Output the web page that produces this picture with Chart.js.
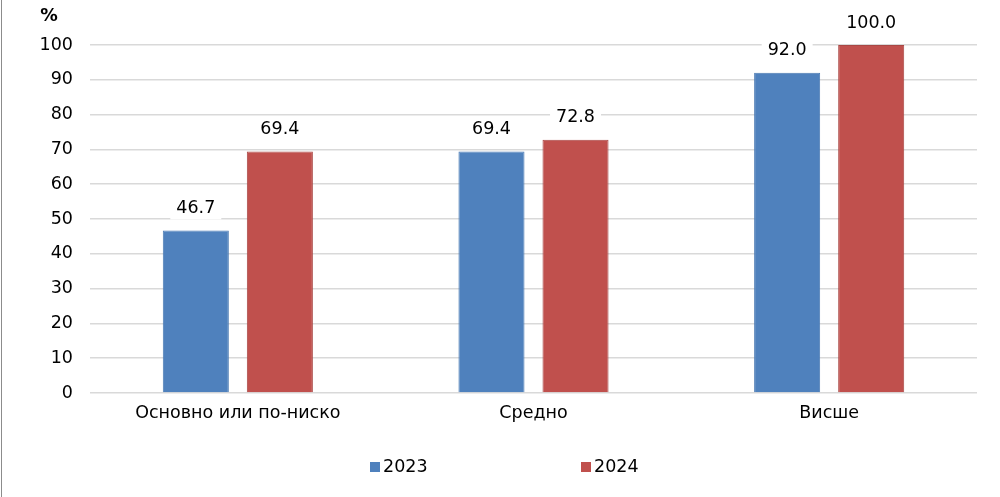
<!DOCTYPE html>
<html>
<head>
<meta charset="utf-8">
<script src="https://cdn.jsdelivr.net/npm/chart.js@4/dist/chart.umd.min.js"></script>
<style>
html,body{margin:0;padding:0;background:#fff;}
#wrap{width:1000px;height:497px;position:relative;}
</style>
</head>
<body>
<div id="wrap"><canvas id="c" width="1000" height="497"></canvas></div>
<script>
const categories = ['Основно или по-ниско', 'Средно', 'Висше'];
const seriesNames = ['2023', '2024'];
const values2023 = [46.7, 69.4, 92.0];
const values2024 = [69.4, 72.8, 100.0];
const yTicks = [0, 10, 20, 30, 40, 50, 60, 70, 80, 90, 100];
const unitLabel = '%';

const FONT = 'DejaVu Sans, Verdana, sans-serif';
const FS = 17.5;
const colors = ['#4F81BD', '#C0504D'];
const borders = ['#4A7AB3', '#A94744'];

const extras = {
  id: 'extras',
  afterDatasetsDraw(chart) {
    const ctx = chart.ctx;
    ctx.save();
    // data labels
    ctx.font = FS + 'px ' + FONT;
    ctx.textAlign = 'center';
    ctx.textBaseline = 'middle';
    chart.data.datasets.forEach((ds, di) => {
      const meta = chart.getDatasetMeta(di);
      meta.data.forEach((bar, i) => {
        const txt = ds.data[i].toFixed(1);
        const w = ctx.measureText(txt).width;
        const y = bar.y - 22;
        ctx.fillStyle = '#fff';
        ctx.fillRect(bar.x - w / 2 - 6, y - 11, w + 12, 22);
        ctx.fillStyle = '#000';
        ctx.fillText(txt, bar.x, y);
      });
    });
    // unit label
    ctx.font = 'bold ' + FS + 'px ' + FONT;
    ctx.textAlign = 'center';
    ctx.fillText(unitLabel, 49, 16);
    // legend
    ctx.font = FS + 'px ' + FONT;
    ctx.textAlign = 'left';
    const legendX = [370, 581];
    seriesNames.forEach((n, i) => {
      ctx.fillStyle = colors[i];
      ctx.fillRect(legendX[i], 462, 10, 10);
      ctx.fillStyle = '#000';
      ctx.fillText(n, legendX[i] + 13, 467);
    });
    // left border
    ctx.strokeStyle = '#8c8c8c';
    ctx.lineWidth = 1;
    ctx.beginPath();
    ctx.moveTo(1.5, 0);
    ctx.lineTo(1.5, 497);
    ctx.stroke();
    ctx.restore();
  }
};

new Chart(document.getElementById('c'), {
  type: 'bar',
  data: {
    labels: categories,
    datasets: [
      { label: seriesNames[0], data: values2023, backgroundColor: colors[0], borderColor: borders[0], borderWidth: 1 },
      { label: seriesNames[1], data: values2024, backgroundColor: colors[1], borderColor: borders[1], borderWidth: 1 }
    ]
  },
  options: {
    responsive: false,
    animation: false,
    devicePixelRatio: 1,
    layout: { padding: { top: 45, right: 23, left: 0, bottom: 0 } },
    datasets: { bar: { categoryPercentage: 0.5685, barPercentage: 0.786 } },
    plugins: { legend: { display: false }, tooltip: { enabled: false } },
    scales: {
      x: {
        grid: { display: false, drawTicks: false },
        border: { display: false },
        ticks: { color: '#000', font: { family: FONT, size: FS }, padding: 10, maxRotation: 0 },
        afterFit(s) { s.height = 104; }
      },
      y: {
        min: 0, max: 100,
        afterBuildTicks(s) { s.ticks = yTicks.map(v => ({ value: v })); },
        grid: { color: '#d9d9d9', lineWidth: 1.5, drawTicks: false },
        border: { display: false },
        ticks: { color: '#000', font: { family: FONT, size: FS }, padding: 17 },
        afterFit(s) { s.width = 90; }
      }
    }
  },
  plugins: [extras]
});
</script>
</body>
</html>
